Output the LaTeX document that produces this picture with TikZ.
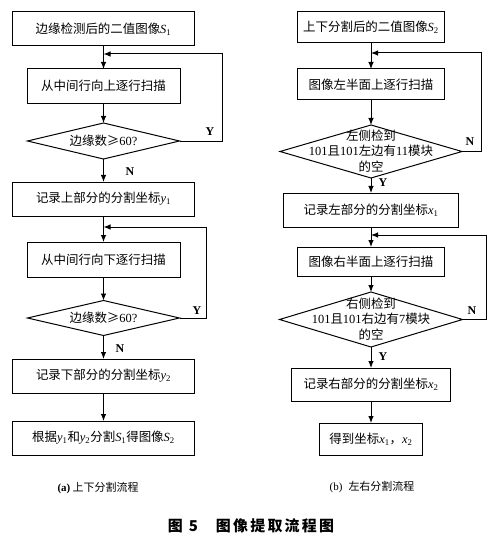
\documentclass[tikz,border=0pt]{standalone}
\usepackage{fontspec}
\setmainfont{Liberation Serif}
\newfontfamily\cjk{Noto Sans CJK SC}
\newfontfamily\titlefont[LetterSpace=15]{Noto Sans CJK SC}
\usetikzlibrary{shapes.geometric,arrows.meta}
\newcommand\vv[2]{{\rmfamily\itshape #1}\textsubscript{\rmfamily #2}}
\newcommand\lat[1]{{\rmfamily #1}}
\begin{document}
\begin{tikzpicture}[x=1bp,y=-1bp,
  every node/.style={inner sep=0pt, outer sep=0pt},
  box/.style={draw, line width=1pt, font=\cjk\fontsize{12.5}{14}\selectfont, align=center},
  dia/.style={draw, diamond, line width=1pt},
  diatext/.style={font=\cjk\fontsize{12.5}{15.5}\selectfont, align=center},
  arr/.style={-{Latex[length=7bp,width=5.5bp]}, line width=1pt},
  yn/.style={font=\rmfamily\bfseries\fontsize{12}{14}\selectfont},
  captxt/.style={font=\cjk\fontsize{11}{13}\selectfont}]
\useasboundingbox[fill=white] (0,0) rectangle (496,540);

% ---------- left column ----------
\node[box, minimum width=182bp, minimum height=34bp] (a1) at (103.5,29) {边缘检测后的二值图像\vv{S}{1}};
\node[box, minimum width=153bp, minimum height=34bp] (a2) at (103.5,86) {从中间行向上逐行扫描};
\node[dia, minimum width=152bp, minimum height=36bp] (d1) at (103.5,141) {};
\node[diatext] (d1t) at (d1.center) {边缘数≥\lat{60?}};
\node[box, minimum width=182bp, minimum height=34bp] (a3) at (103.5,199) {记录上部分的分割坐标\vv{y}{1}};
\node[box, minimum width=153bp, minimum height=35bp] (a4) at (103.5,259.5) {从中间行向下逐行扫描};
\node[dia, minimum width=152bp, minimum height=35bp] (d2) at (103.5,318) {};
\node[diatext] (d2t) at (d2.center) {边缘数≥\lat{60?}};
\node[box, minimum width=182bp, minimum height=34bp] (a5) at (103.5,376) {记录下部分的分割坐标\vv{y}{2}};
\node[box, minimum width=182bp, minimum height=34bp] (a6) at (103.5,438) {根据\vv{y}{1}和\vv{y}{2}分割\vv{S}{1}得图像\vv{S}{2}};

\coordinate (j1) at (103.5,54);
\coordinate (j2) at (103.5,227);

\draw[arr] (a1.south) -- (a2.north);
\draw[arr] (a2.south) -- (d1.north);
\draw[arr] (d1.south) -- (a3.north);
\draw[arr] (a3.south) -- (a4.north);
\draw[arr] (a4.south) -- (d2.north);
\draw[arr] (d2.south) -- (a5.north);
\draw[arr] (a5.south) -- (a6.north);
\draw[arr] (d1.east) -- ++(43,0) |- (j1);
\draw[arr] (d2.east) -- ++(26.5,0) |- (j2);

\node[yn] (y1) at (210,132) {Y};
\node[yn] (n1) at (130,172) {N};
\node[yn] (y2) at (197,311) {Y};
\node[yn] (n2) at (120,349) {N};

\node[captxt] (capa) at (98,488) {\lat{\bfseries (a)} 上下分割流程};

% ---------- right column ----------
\node[box, minimum width=147bp, minimum height=31bp] (b1) at (371,27.5) {上下分割后的二值图像\vv{S}{2}};
\node[box, minimum width=147bp, minimum height=31bp] (b2) at (371,84.5) {图像左半面上逐行扫描};
\node[dia, minimum width=182bp, minimum height=53bp] (e1) at (371,151.5) {};
\node[diatext] (e1t) at (371,151) {左侧检到\\\lat{101}且\lat{101}左边有\lat{11}模块\\的空};
\node[box, minimum width=175bp, minimum height=34bp] (b3) at (371,210) {记录左部分的分割坐标\vv{x}{1}};
\node[box, minimum width=147bp, minimum height=29bp] (b4) at (371,261.5) {图像右半面上逐行扫描};
\node[dia, minimum width=183bp, minimum height=55bp] (e2) at (371,319.5) {};
\node[diatext] (e2t) at (371,319) {右侧检到\\\lat{101}且\lat{101}右边有\lat{7}模块\\的空};
\node[box, minimum width=159bp, minimum height=33bp] (b5) at (371,384.5) {记录右部分的分割坐标\vv{x}{2}};
\node[box, minimum width=103bp, minimum height=32bp] (b6) at (371,439) {得到坐标\vv{x}{1}，\vv{x}{2}};

\coordinate (k1) at (371,53);
\coordinate (k2) at (371,235);

\draw[arr] (b1.south) -- (b2.north);
\draw[arr] (b2.south) -- (e1.north);
\draw[arr] (e1.south) -- (b3.north);
\draw[arr] (b3.south) -- (b4.north);
\draw[arr] (b4.south) -- (e2.north);
\draw[arr] (e2.south) -- (b5.north);
\draw[arr] (b5.south) -- (b6.north);
\draw[arr] (e1.east) -- ++(19,0) |- (k1);
\draw[arr] (e2.east) -- ++(23.5,0) |- (k2);

\node[yn] (n3) at (470,142) {N};
\node[yn] (y3) at (383,183) {Y};
\node[yn] (n4) at (472,311) {N};
\node[yn] (y4) at (383,357) {Y};

\node[captxt] (capb) at (372,487) {\lat{(b)}\hspace{6bp}左右分割流程};

% ---------- title ----------
\node[font=\titlefont\bfseries\fontsize{15}{17}\selectfont] (title) at (251,526) {图\hspace{6bp}5\hspace{18bp}图像提取流程图};
\end{tikzpicture}
\end{document}
